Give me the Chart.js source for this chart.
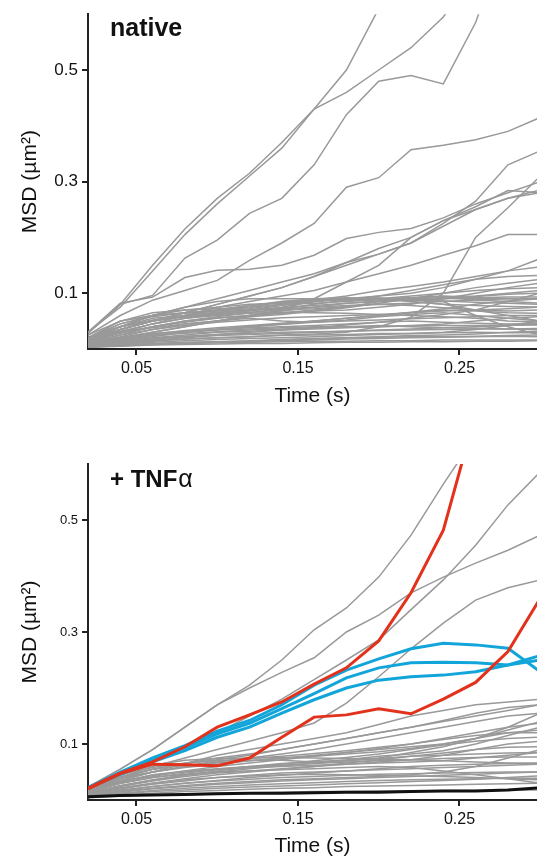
<!DOCTYPE html>
<html>
<head>
<meta charset="utf-8">
<script src="https://cdn.jsdelivr.net/npm/chart.js@4.4.1/dist/chart.umd.min.js"></script>
<style>
  html, body { margin: 0; padding: 0; background: #fff; }
  #wrap { position: relative; width: 537px; height: 861px; overflow: hidden; }
  canvas { position: absolute; left: 0; }
  #topChart { top: 0; }
  #botChart { top: 440px; }
</style>
</head>
<body>
<div id="wrap">
  <canvas id="topChart" width="537" height="430"></canvas>
  <canvas id="botChart" width="537" height="421"></canvas>
</div>
<script>
// time points (s)
const times = [0.02, 0.04, 0.06, 0.08, 0.10, 0.12, 0.14, 0.16, 0.18, 0.20, 0.22, 0.24, 0.26, 0.28, 0.30];

const xTicks = [0.05, 0.15, 0.25];
const xTickLabels = ['0.05', '0.15', '0.25'];
const yTicks = [0.1, 0.3, 0.5];
const yTickLabels = ['0.1', '0.3', '0.5'];

// native: individual MSD traces (µm²)
const nativeTraces = [
  [0.03,0.08,0.15,0.215,0.27,0.315,0.37,0.43,0.50,0.61,0.72,0.82,0.92,1.0,1.1],
  [0.03,0.075,0.14,0.205,0.26,0.31,0.36,0.43,0.46,0.50,0.54,0.595,0.68,0.80,0.90],
  [0.028,0.08,0.096,0.163,0.195,0.243,0.27,0.33,0.42,0.48,0.49,0.475,0.585,0.75,0.90],
  [0.025,0.06,0.0875,0.105,0.123,0.159,0.19,0.225,0.29,0.307,0.357,0.365,0.375,0.39,0.415],
  [0.03,0.082,0.093,0.128,0.141,0.143,0.15,0.168,0.198,0.209,0.216,0.235,0.26,0.28,0.30],
  [0.015,0.02,0.03,0.04,0.05,0.06,0.07,0.09,0.12,0.15,0.2,0.23,0.25,0.27,0.285],
  [0.02,0.04,0.06,0.075,0.09,0.105,0.12,0.135,0.155,0.17,0.19,0.22,0.25,0.27,0.28],
  [0.01,0.012,0.015,0.018,0.02,0.022,0.025,0.027,0.03,0.04,0.057,0.10,0.20,0.253,0.31],
  [0.02,0.04,0.06,0.075,0.085,0.09,0.09,0.09,0.09,0.09,0.092,0.095,0.09,0.09,0.09],
  [0.015,0.03,0.045,0.06,0.075,0.085,0.095,0.105,0.12,0.135,0.15,0.168,0.185,0.205,0.205],
  [0.02,0.035,0.05,0.065,0.08,0.095,0.11,0.13,0.155,0.18,0.2,0.23,0.255,0.284,0.28],
  [0.02,0.035,0.05,0.065,0.08,0.095,0.11,0.13,0.15,0.17,0.19,0.225,0.265,0.33,0.355],
  [0.012,0.03,0.045,0.055,0.062,0.07,0.078,0.085,0.09,0.095,0.1,0.11,0.125,0.14,0.162],
  [0.015,0.035,0.05,0.06,0.07,0.078,0.083,0.088,0.095,0.105,0.112,0.12,0.13,0.14,0.147],
  [0.01,0.025,0.04,0.05,0.058,0.065,0.072,0.08,0.088,0.095,0.105,0.115,0.125,0.13,0.132],
  [0.02,0.045,0.06,0.065,0.068,0.075,0.085,0.09,0.088,0.09,0.095,0.1,0.105,0.108,0.11],
  [0.008,0.02,0.03,0.04,0.05,0.06,0.068,0.075,0.082,0.085,0.088,0.09,0.092,0.093,0.093],
  [0.018,0.04,0.05,0.058,0.062,0.068,0.075,0.085,0.09,0.092,0.085,0.08,0.078,0.076,0.075],
  [0.006,0.015,0.022,0.03,0.035,0.04,0.045,0.05,0.055,0.06,0.065,0.07,0.068,0.065,0.064],
  [0.01,0.02,0.028,0.032,0.035,0.038,0.04,0.042,0.045,0.048,0.05,0.048,0.046,0.045,0.046],
  [0.005,0.01,0.014,0.018,0.02,0.022,0.024,0.025,0.026,0.028,0.028,0.029,0.03,0.029,0.029],
  [0.004,0.006,0.008,0.01,0.011,0.012,0.013,0.014,0.014,0.015,0.015,0.016,0.016,0.016,0.016],
  [0.015,0.03,0.04,0.048,0.055,0.06,0.065,0.07,0.075,0.085,0.09,0.085,0.06,0.04,0.025],
  [0.02,0.05,0.065,0.07,0.075,0.08,0.082,0.085,0.09,0.09,0.085,0.08,0.07,0.06,0.05],
  [0.01,0.022,0.035,0.045,0.05,0.058,0.062,0.068,0.07,0.075,0.08,0.09,0.1,0.11,0.118],
  [0.007,0.012,0.018,0.022,0.026,0.03,0.034,0.038,0.043,0.048,0.055,0.062,0.07,0.085,0.1],
  [0.012,0.025,0.035,0.042,0.048,0.052,0.056,0.058,0.06,0.062,0.065,0.068,0.07,0.072,0.075],
  [0.005,0.008,0.01,0.012,0.013,0.014,0.016,0.018,0.02,0.022,0.024,0.025,0.027,0.03,0.032],
  [0.008,0.016,0.024,0.03,0.036,0.04,0.044,0.048,0.05,0.052,0.054,0.056,0.058,0.06,0.06],
  [0.003,0.005,0.007,0.008,0.009,0.01,0.01,0.011,0.012,0.012,0.013,0.013,0.014,0.014,0.015],
  [0.014,0.03,0.038,0.045,0.05,0.055,0.05,0.048,0.052,0.058,0.062,0.065,0.06,0.055,0.05],
  [0.009,0.018,0.025,0.03,0.034,0.036,0.038,0.04,0.04,0.042,0.04,0.038,0.037,0.036,0.035],
  [0.006,0.012,0.016,0.02,0.024,0.026,0.028,0.03,0.032,0.034,0.036,0.038,0.04,0.042,0.044],
  [0.02,0.04,0.055,0.06,0.065,0.07,0.072,0.075,0.078,0.08,0.082,0.085,0.088,0.09,0.09],
  [0.004,0.007,0.009,0.011,0.013,0.015,0.017,0.019,0.02,0.021,0.022,0.022,0.023,0.024,0.025],
  [0.011,0.02,0.027,0.033,0.038,0.042,0.046,0.05,0.055,0.06,0.066,0.072,0.08,0.086,0.09],
  [0.007,0.013,0.02,0.025,0.03,0.032,0.034,0.036,0.038,0.04,0.042,0.045,0.05,0.055,0.058],
  [0.016,0.032,0.045,0.055,0.06,0.064,0.066,0.065,0.064,0.062,0.06,0.058,0.055,0.05,0.048],
  [0.003,0.006,0.008,0.01,0.012,0.013,0.015,0.016,0.018,0.019,0.02,0.021,0.022,0.023,0.022],
  [0.013,0.028,0.04,0.05,0.056,0.06,0.064,0.068,0.074,0.082,0.09,0.1,0.11,0.118,0.125],
  [0.01,0.018,0.024,0.028,0.031,0.034,0.036,0.038,0.04,0.04,0.041,0.042,0.042,0.043,0.043],
  [0.008,0.014,0.019,0.023,0.026,0.028,0.03,0.031,0.032,0.033,0.034,0.035,0.036,0.036,0.037],
  [0.025,0.05,0.06,0.07,0.072,0.075,0.08,0.082,0.085,0.09,0.092,0.094,0.095,0.1,0.105],
  [0.005,0.009,0.012,0.015,0.017,0.019,0.02,0.022,0.024,0.026,0.028,0.03,0.035,0.042,0.05],
  [0.018,0.045,0.058,0.065,0.07,0.078,0.085,0.088,0.086,0.088,0.09,0.092,0.088,0.085,0.082],
  [0.012,0.035,0.05,0.06,0.066,0.07,0.074,0.078,0.082,0.086,0.088,0.09,0.094,0.098,0.1],
  [0.02,0.05,0.06,0.064,0.068,0.072,0.08,0.09,0.092,0.09,0.088,0.086,0.084,0.082,0.08],
  [0.015,0.04,0.052,0.058,0.063,0.066,0.07,0.072,0.076,0.08,0.078,0.074,0.07,0.068,0.07]
];

// + TNFα: grey traces
const tnfTraces = [
  [0.023,0.055,0.09,0.13,0.17,0.205,0.25,0.304,0.343,0.398,0.473,0.564,0.65,0.75,0.85],
  [0.023,0.055,0.09,0.13,0.17,0.2,0.228,0.254,0.3,0.33,0.37,0.398,0.423,0.446,0.473],
  [0.02,0.045,0.07,0.095,0.12,0.15,0.18,0.215,0.25,0.286,0.34,0.393,0.455,0.527,0.586],
  [0.018,0.04,0.06,0.075,0.09,0.105,0.12,0.1375,0.173,0.22,0.27,0.316,0.357,0.379,0.393],
  [0.02,0.04,0.055,0.065,0.072,0.08,0.09,0.1,0.11,0.12,0.13,0.14,0.15,0.16,0.17],
  [0.018,0.035,0.05,0.06,0.068,0.075,0.082,0.09,0.1,0.11,0.12,0.13,0.14,0.15,0.155],
  [0.015,0.03,0.042,0.052,0.06,0.066,0.072,0.078,0.085,0.092,0.1,0.11,0.12,0.13,0.1375],
  [0.02,0.04,0.05,0.06,0.07,0.071,0.071,0.068,0.07,0.075,0.085,0.095,0.11,0.12,0.125],
  [0.012,0.025,0.035,0.045,0.052,0.058,0.064,0.07,0.076,0.082,0.09,0.098,0.105,0.11,0.1125],
  [0.01,0.02,0.03,0.038,0.045,0.05,0.055,0.06,0.066,0.072,0.078,0.084,0.09,0.094,0.095],
  [0.016,0.033,0.045,0.052,0.056,0.06,0.062,0.065,0.068,0.07,0.072,0.074,0.076,0.077,0.077],
  [0.008,0.016,0.024,0.03,0.035,0.04,0.044,0.048,0.052,0.056,0.06,0.062,0.064,0.065,0.066],
  [0.01,0.018,0.024,0.03,0.034,0.037,0.04,0.042,0.044,0.046,0.047,0.048,0.049,0.05,0.05],
  [0.006,0.012,0.017,0.021,0.024,0.027,0.029,0.031,0.033,0.035,0.036,0.037,0.038,0.039,0.039],
  [0.005,0.009,0.012,0.015,0.017,0.019,0.021,0.022,0.024,0.025,0.026,0.027,0.028,0.029,0.03],
  [0.004,0.007,0.009,0.011,0.012,0.013,0.014,0.015,0.015,0.016,0.016,0.017,0.017,0.018,0.018],
  [0.018,0.038,0.05,0.058,0.064,0.07,0.075,0.08,0.085,0.09,0.095,0.1,0.11,0.125,0.14],
  [0.014,0.03,0.04,0.048,0.054,0.06,0.065,0.068,0.072,0.078,0.082,0.088,0.1,0.115,0.13],
  [0.012,0.024,0.034,0.042,0.048,0.052,0.056,0.06,0.064,0.068,0.072,0.08,0.09,0.1,0.105],
  [0.016,0.032,0.044,0.05,0.055,0.058,0.06,0.062,0.064,0.066,0.068,0.07,0.075,0.08,0.085],
  [0.009,0.02,0.028,0.034,0.04,0.044,0.048,0.05,0.052,0.054,0.056,0.058,0.06,0.062,0.064],
  [0.011,0.022,0.03,0.036,0.04,0.043,0.045,0.046,0.045,0.044,0.043,0.042,0.04,0.038,0.036],
  [0.007,0.014,0.02,0.024,0.028,0.031,0.034,0.036,0.038,0.04,0.042,0.044,0.046,0.048,0.05],
  [0.02,0.045,0.058,0.066,0.07,0.074,0.078,0.083,0.088,0.094,0.1,0.108,0.115,0.12,0.12],
  [0.013,0.026,0.036,0.044,0.05,0.056,0.061,0.066,0.07,0.074,0.078,0.08,0.082,0.084,0.085],
  [0.008,0.015,0.021,0.026,0.03,0.033,0.036,0.038,0.04,0.042,0.045,0.05,0.06,0.075,0.09],
  [0.015,0.03,0.04,0.046,0.05,0.052,0.054,0.056,0.058,0.06,0.058,0.052,0.045,0.038,0.03],
  [0.02,0.042,0.055,0.062,0.066,0.07,0.074,0.078,0.082,0.086,0.092,0.1,0.11,0.13,0.155],
  [0.006,0.011,0.015,0.018,0.021,0.023,0.025,0.027,0.029,0.031,0.033,0.035,0.037,0.04,0.043],
  [0.017,0.04,0.055,0.065,0.075,0.082,0.09,0.1,0.11,0.12,0.13,0.142,0.155,0.165,0.17],
  [0.02,0.045,0.062,0.071,0.074,0.075,0.076,0.075,0.074,0.073,0.072,0.07,0.068,0.066,0.065],
  [0.015,0.035,0.05,0.065,0.08,0.09,0.1,0.11,0.12,0.135,0.15,0.16,0.17,0.175,0.18]
];

// + TNFα: highlighted traces
const tnfRed = [
  [0.021,0.048,0.068,0.095,0.13,0.152,0.175,0.207,0.236,0.284,0.37,0.482,0.69,0.9,1.1],
  [0.02,0.047,0.064,0.063,0.061,0.075,0.112,0.148,0.152,0.163,0.154,0.18,0.21,0.265,0.36]
];
const tnfBlue = [
  [0.022,0.05,0.075,0.097,0.123,0.142,0.17,0.205,0.232,0.252,0.27,0.28,0.277,0.271,0.229],
  [0.022,0.048,0.072,0.093,0.118,0.137,0.163,0.19,0.218,0.236,0.245,0.246,0.245,0.241,0.25],
  [0.021,0.046,0.068,0.088,0.112,0.13,0.155,0.179,0.2,0.214,0.22,0.223,0.229,0.241,0.258]
];
const tnfBlack = [0.006,0.008,0.009,0.01,0.011,0.012,0.012,0.013,0.014,0.014,0.015,0.016,0.016,0.018,0.022];

const FONT = '"Liberation Sans", Arial, Helvetica, sans-serif';
const GREY = '#999999';
const RED = '#e2321c';
const BLUE = '#12a5da';
const BLACK = '#111111';

function trace(vals, color, width) {
    return {
        data: times.map((t, i) => ({ x: t, y: vals[i] })),
        borderColor: color,
        borderWidth: width,
        pointRadius: 0,
        tension: 0,
        fill: false
    };
}

// panel label drawn in the top-left corner of the plot
const panelTitle = {
    id: 'panelTitle',
    afterDraw(chart, args, opts) {
        const ctx = chart.ctx;
        ctx.save();
        ctx.fillStyle = '#111';
        ctx.textBaseline = 'alphabetic';
        ctx.font = `bold ${opts.size}px ${FONT}`;
        ctx.fillText(opts.text, opts.x, opts.y);
        if (opts.suffix) {
            const w = ctx.measureText(opts.text).width;
            ctx.font = `${opts.size + 1}px ${FONT}`;
            ctx.fillText(opts.suffix, opts.x + w + 1, opts.y);
        }
        ctx.restore();
    }
};

function makeChart(canvasId, datasets, cfg) {
    const axisLine = { display: true, color: '#222', width: 2 };
    const tickMarks = { display: true, drawOnChartArea: false, drawTicks: true, tickLength: 6, color: '#222', lineWidth: 2 };
    return new Chart(document.getElementById(canvasId), {
        type: 'line',
        data: { datasets: datasets },
        options: {
            responsive: false,
            animation: false,
            devicePixelRatio: 1,
            layout: { padding: { top: cfg.padTop, left: 0, right: 0, bottom: 0 } },
            plugins: {
                legend: { display: false },
                tooltip: { enabled: false },
                panelTitle: cfg.title
            },
            scales: {
                x: {
                    type: 'linear',
                    min: 0.02,
                    max: 0.298,
                    afterFit(s) { s.height = cfg.xHeight; },
                    afterBuildTicks(s) { s.ticks = xTicks.map(v => ({ value: v })); },
                    ticks: {
                        callback: (v, i) => xTickLabels[i],
                        font: { size: 16, family: FONT },
                        color: '#111',
                        padding: 4,
                        maxRotation: 0,
                        autoSkip: false
                    },
                    grid: tickMarks,
                    border: axisLine,
                    title: {
                        display: true,
                        text: 'Time (s)',
                        font: { size: 21, family: FONT },
                        color: '#111',
                        padding: { top: 0, bottom: cfg.xTitlePad }
                    }
                },
                y: {
                    min: 0,
                    max: 0.6,
                    afterFit(s) { s.width = 88; },
                    afterBuildTicks(s) { s.ticks = yTicks.map(v => ({ value: v })); },
                    ticks: {
                        callback: (v, i) => yTickLabels[i],
                        font: { size: cfg.yTickSize, family: FONT },
                        color: '#111',
                        padding: 4
                    },
                    grid: tickMarks,
                    border: axisLine,
                    title: {
                        display: true,
                        text: 'MSD (µm²)',
                        font: { size: 21, family: FONT },
                        color: '#111',
                        padding: { top: 18, bottom: 0 }
                    }
                }
            }
        },
        plugins: [panelTitle]
    });
}

// native panel
makeChart('topChart', nativeTraces.map(v => trace(v, GREY, 1.5)), {
    padTop: 14,
    xHeight: 81,
    xTitlePad: 21,
    yTickSize: 17,
    title: { text: 'native', x: 110, y: 36, size: 25 }
});

// + TNFα panel (highlighted traces first so they sit on top)
const tnfSets = [
    trace(tnfBlack, BLACK, 3),
    ...tnfRed.map(v => trace(v, RED, 3)),
    ...tnfBlue.map(v => trace(v, BLUE, 3)),
    ...tnfTraces.map(v => trace(v, GREY, 1.5))
];
makeChart('botChart', tnfSets, {
    padTop: 24,
    xHeight: 61,
    xTitlePad: 2,
    yTickSize: 13,
    title: { text: '+ TNF', suffix: 'α', x: 110, y: 47, size: 24 }
});
</script>
</body>
</html>
